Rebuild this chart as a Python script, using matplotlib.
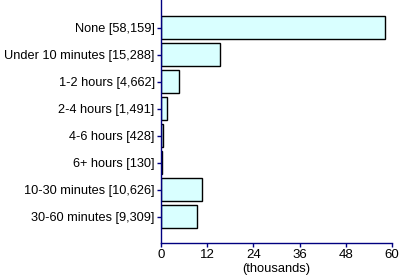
import matplotlib
matplotlib.use("Agg")
import matplotlib.pyplot as plt

categories = ["None [58,159]", "Under 10 minutes [15,288]", "1-2 hours [4,662]",
              "2-4 hours [1,491]", "4-6 hours [428]", "6+ hours [130]",
              "10-30 minutes [10,626]", "30-60 minutes [9,309]"]
values = [58.159, 15.288, 4.662, 1.491, 0.428, 0.130, 10.626, 9.309]
xticks = [0, 12, 24, 36, 48, 60]

plt.rcParams['font.family'] = ['Liberation Sans', 'DejaVu Sans']
fig = plt.figure(figsize=(4.0, 2.76), dpi=100)
ax = fig.add_axes([0.4025, 0.1196, 0.5775, 0.8804])
pos = list(range(len(categories)))
ax.barh(pos, values, height=0.85, color='#d9ffff', edgecolor='black', linewidth=1.0)
ax.set_ylim(7.98, -1.02)
ax.set_xlim(0, 60)
ax.set_yticks(pos)
ax.set_yticklabels(categories, fontsize=9.2)
ax.set_xticks(xticks)
ax.set_xticklabels([str(t) for t in xticks], fontsize=9.5)
ax.set_xlabel("(thousands)", fontsize=9.3, labelpad=1)
for s in ['top', 'right']:
    ax.spines[s].set_visible(False)
for s in ['left', 'bottom']:
    ax.spines[s].set_color('#000080')
    ax.spines[s].set_linewidth(1.0)
ax.tick_params(axis='both', colors='#000080', labelcolor='black', length=3, width=1, pad=1.5)
fig.savefig("out.png", dpi=100)
